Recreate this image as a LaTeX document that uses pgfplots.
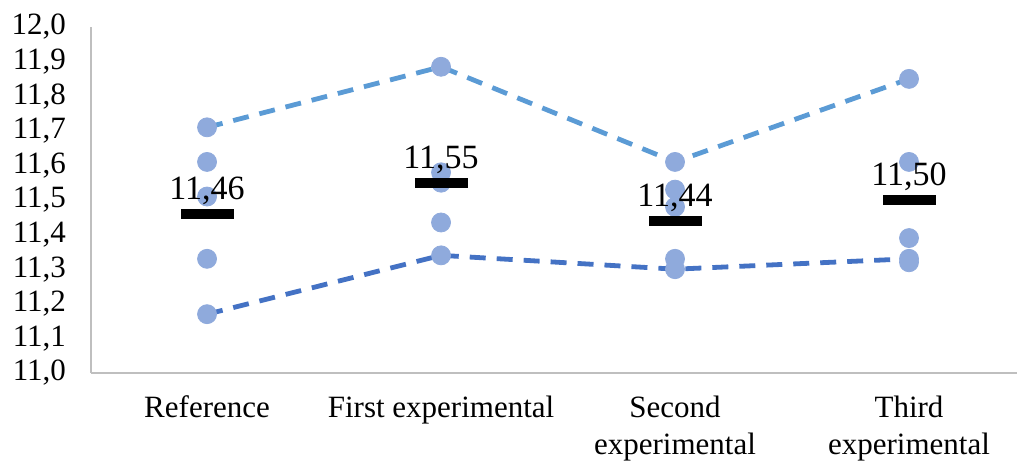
\documentclass[border=0pt]{standalone}
\usepackage{fontspec}
\setmainfont{Liberation Serif}
\usepackage{pgfplots}
\usepackage{pgfplotstable}
\pgfplotsset{compat=1.18}

\definecolor{dotblue}{HTML}{8FAADC}
\definecolor{maxblue}{HTML}{5B9BD5}
\definecolor{minblue}{HTML}{4472C4}
\definecolor{axisgray}{HTML}{BFBFBF}

% individual measurements
\pgfplotstableread{
x y
0 11.71
0 11.61
0 11.51
0 11.33
0 11.17
1 11.885
1 11.58
1 11.55
1 11.435
1 11.34
2 11.61
2 11.53
2 11.48
2 11.33
2 11.30
3 11.85
3 11.61
3 11.39
3 11.33
3 11.32
}\pointdata

\pgfplotstableread{
x y
0 11.71
1 11.885
2 11.61
3 11.85
}\maxdata

\pgfplotstableread{
x y
0 11.17
1 11.34
2 11.30
3 11.33
}\mindata

\pgfplotstableread{
x y label
0 11.46 11,46
1 11.55 11,55
2 11.44 11,44
3 11.50 11,50
}\meandata

\begin{document}
\begin{tikzpicture}
\begin{axis}[
    scale only axis,
    width=463pt, height=173pt,
    xmin=-0.496, xmax=3.4615,
    ymin=11, ymax=12,
    ytick={11,11.1,...,12.05},
    xtick={0,1,2,3},
    xticklabels={Reference,First experimental,Second\\experimental,Third\\experimental},
    axis x line*=bottom,
    axis y line*=left,
    axis line style={axisgray, line width=0.9pt, -},
    major tick length=0pt,
    tick label style={font=\fontsize{15.5}{18.5}\selectfont},
    xticklabel style={align=center, anchor=north, yshift=-8pt},
    yticklabel style={xshift=-9pt},
    /pgf/number format/.cd, use comma, fixed, fixed zerofill, precision=1, assume math mode=true,
    /pgfplots/.cd,
    clip=false,
]
\addplot[maxblue, line width=2.4pt, dash pattern=on 8pt off 5.5pt, no marks] table {\maxdata};
\addplot[minblue, line width=2.4pt, dash pattern=on 8pt off 5.5pt, no marks] table {\mindata};
\addplot[dotblue, only marks, mark=*, mark size=4.75pt, mark options={draw=dotblue, fill=dotblue}] table {\pointdata};
\addplot[black, only marks, mark=-, mark size=13.25pt, mark options={line width=5pt},
    nodes near coords, point meta=explicit symbolic,
    every node near coord/.append style={font=\fontsize{17}{20}\selectfont, inner sep=0pt, text depth=0pt, yshift=4.5pt, black}]
    table[meta=label] {\meandata};
\end{axis}
\pgfresetboundingbox
\path ([xshift=-45.5pt,yshift=-48pt]current axis.south west) rectangle ([yshift=13.5pt]current axis.north east);
\end{tikzpicture}
\end{document}
